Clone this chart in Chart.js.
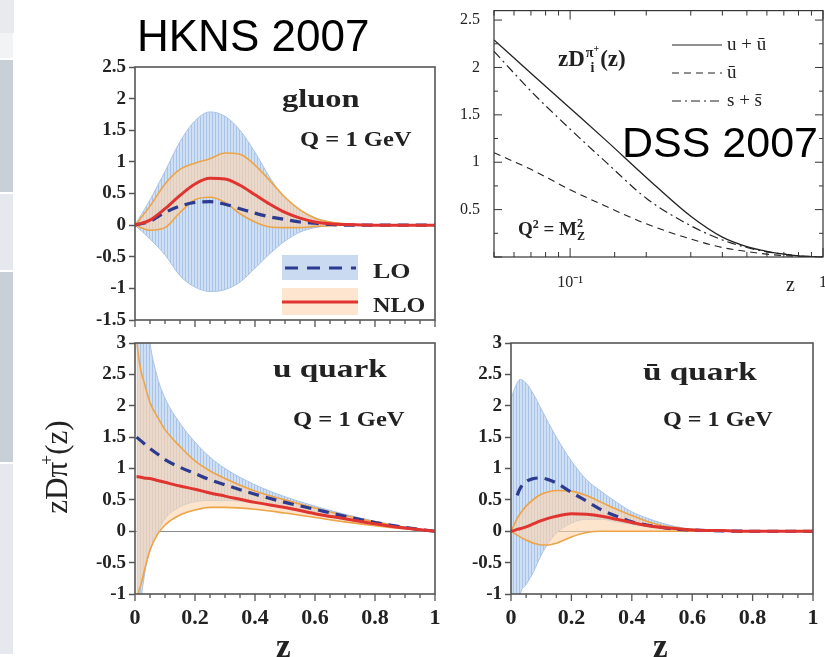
<!DOCTYPE html>
<html><head><meta charset="utf-8">
<script src="https://cdn.jsdelivr.net/npm/chart.js@4.4.1/dist/chart.umd.min.js"></script>
<style>
html,body{margin:0;padding:0;background:#fff;}
body{width:825px;height:657px;overflow:hidden;position:relative;font-family:"Liberation Serif",serif;color:#222;}
.box{position:absolute;}
.strip{position:absolute;left:0;}
.t{position:absolute;white-space:nowrap;line-height:1;}
.lbl{position:absolute;white-space:nowrap;line-height:1;font-weight:bold;color:#222;transform-origin:0 50%;font-family:"Liberation Serif",serif;}
.sans{font-family:"Liberation Sans",Arial,sans-serif;color:#000;}
</style></head><body>

<div class="strip" style="top:0;height:33px;width:14px;background:#e8ebee"></div>
<div class="strip" style="top:33px;height:25px;width:13px;background:#f2f3f5"></div>
<div class="strip" style="top:60px;height:132px;width:13px;background:#c9cfd7"></div>
<div class="strip" style="top:194px;height:76px;width:13px;background:#e5e8ec"></div>
<div class="strip" style="top:272px;height:190px;width:13px;background:#c9cfd7"></div>
<div class="strip" style="top:464px;height:190px;width:13px;background:#e5e8ec"></div>

<div class="box" style="left:80px;top:50px;width:365px;height:285px"><canvas id="cG"></canvas></div>
<div class="box" style="left:80px;top:326px;width:373px;height:308px"><canvas id="cU"></canvas></div>
<div class="box" style="left:456px;top:326px;width:375px;height:308px"><canvas id="cUb"></canvas></div>
<div class="box" style="left:444px;top:-13px;width:401px;height:310px"><canvas id="cD"></canvas></div>

<div class="t sans" style="left:137px;top:14px;font-size:44px">HKNS 2007</div>
<div class="t sans" style="left:622px;top:121px;font-size:43px">DSS 2007</div>

<!-- HKNS panel labels -->
<div class="lbl" style="left:282px;top:86px;font-size:25px;transform:scaleX(1.3)">gluon</div>
<div class="lbl" style="left:300px;top:129px;font-size:21px;transform:scaleX(1.17)">Q = 1 GeV</div>
<div class="lbl" style="left:273px;top:356px;font-size:26px;transform:scaleX(1.28)">u quark</div>
<div class="lbl" style="left:293px;top:409px;font-size:21px;transform:scaleX(1.17)">Q = 1 GeV</div>
<div class="lbl" style="left:643px;top:359px;font-size:26px;transform:scaleX(1.28)">ū quark</div>
<div class="lbl" style="left:663px;top:409px;font-size:21px;transform:scaleX(1.15)">Q = 1 GeV</div>

<!-- gluon legend -->
<div class="box" style="left:282px;top:255px;width:76px;height:25px;background:#c9daf1"></div>
<svg class="box" style="left:282px;top:255px" width="76" height="25"><line x1="3" y1="13" x2="74" y2="13" stroke="#2c3a8f" stroke-width="3" stroke-dasharray="13 9"/></svg>
<div class="lbl" style="left:373px;top:260px;font-size:22px;transform:scaleX(1.18)">LO</div>
<div class="box" style="left:282px;top:288px;width:76px;height:27px;background:#fde5d0"></div>
<svg class="box" style="left:282px;top:288px" width="76" height="27"><line x1="0" y1="14" x2="76" y2="14" stroke="#e03430" stroke-width="3"/></svg>
<div class="lbl" style="left:373px;top:294px;font-size:22px;transform:scaleX(1.1)">NLO</div>

<!-- axis titles -->
<div class="t" style="left:55px;top:467px;transform:translate(-50%,-50%) rotate(-90deg);font-size:31px;">zDπ<sup style="font-size:18px;vertical-align:14px;margin-left:-3px">+</sup>(z)</div>
<div class="t" style="left:276px;top:630px;font-size:33px;font-weight:bold">z</div>
<div class="t" style="left:653px;top:630px;font-size:33px;font-weight:bold">z</div>

<!-- DSS labels -->
<div class="t" style="left:558px;top:44px;font-size:23px;font-weight:bold">zD<span style="display:inline-block;vertical-align:-6px;font-size:14px;line-height:1.05;text-align:center;margin:0 1px">π<sup style="font-size:10px;vertical-align:5px">+</sup><br>i</span>(z)</div>
<div class="t" style="left:518px;top:217px;font-size:19px;font-weight:bold">Q<sup style="font-size:12px;vertical-align:7px">2</sup> = M<span style="display:inline-block;vertical-align:-5px;font-size:12px;line-height:1.05">2<br>Z</span></div>
<svg class="box" style="left:670px;top:35px" width="55" height="75">
<line x1="2" y1="10" x2="52" y2="10" stroke="#222" stroke-width="1.2"/>
<line x1="2" y1="38" x2="52" y2="38" stroke="#222" stroke-width="1.1" stroke-dasharray="7 5"/>
<line x1="2" y1="66" x2="52" y2="66" stroke="#222" stroke-width="1.2" stroke-dasharray="9 4 2 4"/>
</svg>
<div class="t" style="left:727px;top:34px;font-size:19px">u + ū</div>
<div class="t" style="left:727px;top:62px;font-size:19px">ū</div>
<div class="t" style="left:727px;top:90px;font-size:19px">s + s̄</div>
<div class="t" style="left:786px;top:274px;font-size:20px">z</div>

<script>
// ---------- gluon (HKNS, Q = 1 GeV) ----------
const gluonZ     = [0, 0.05, 0.1, 0.15, 0.2, 0.25, 0.3, 0.35, 0.4, 0.45, 0.5, 0.55, 0.6, 0.65, 0.7, 0.8, 0.9, 1];
const gluonLOUp  = [0, 0.40, 0.85, 1.32, 1.65, 1.79, 1.72, 1.50, 1.15, 0.75, 0.42, 0.24, 0.12, 0.05, 0.02, 0, 0, 0];
const gluonLOLo  = [0, -0.22, -0.47, -0.80, -0.98, -1.05, -1.02, -0.90, -0.68, -0.45, -0.25, -0.11, -0.04, -0.01, 0, 0, 0, 0];
const gluonNLOUp = [0, 0.30, 0.65, 0.88, 0.98, 1.05, 1.14, 1.12, 0.95, 0.70, 0.44, 0.24, 0.11, 0.05, 0.02, 0, 0, 0];
const gluonNLOLo = [0, -0.08, -0.04, 0.20, 0.40, 0.44, 0.36, 0.18, 0.05, -0.03, -0.04, -0.04, -0.02, -0.01, 0, 0, 0, 0];
const gluonLO    = [0, 0.06, 0.20, 0.30, 0.36, 0.37, 0.33, 0.26, 0.19, 0.13, 0.09, 0.05, 0.03, 0.01, 0, 0, 0, 0];
const gluonNLO   = [0, 0.08, 0.26, 0.47, 0.65, 0.74, 0.73, 0.63, 0.48, 0.33, 0.20, 0.11, 0.05, 0.02, 0.01, 0, 0, 0];

// ---------- u quark ----------
const uZ      = [0.005, 0.01, 0.02, 0.03, 0.05, 0.075, 0.1, 0.15, 0.2, 0.25, 0.3, 0.4, 0.5, 0.6, 0.7, 0.8, 0.9, 1];
const uLOUp   = [8, 6.5, 4.8, 3.9, 3.0, 2.45, 2.12, 1.72, 1.42, 1.18, 1.0, 0.74, 0.55, 0.40, 0.27, 0.16, 0.07, 0];
const uLOLo   = [-6, -3.5, -1.3, -0.75, -0.32, -0.02, 0.20, 0.39, 0.47, 0.49, 0.49, 0.45, 0.37, 0.27, 0.18, 0.10, 0.04, 0];
const uNLOUp  = [3.1, 2.85, 2.55, 2.38, 2.05, 1.82, 1.62, 1.35, 1.12, 0.96, 0.84, 0.64, 0.50, 0.37, 0.25, 0.15, 0.06, 0];
const uNLOLo  = [-1.5, -1.05, -0.85, -0.65, -0.30, -0.05, 0.10, 0.26, 0.34, 0.38, 0.38, 0.35, 0.29, 0.22, 0.15, 0.09, 0.04, 0];
const uLO     = [1.50, 1.48, 1.44, 1.40, 1.32, 1.23, 1.14, 1.02, 0.92, 0.82, 0.74, 0.59, 0.46, 0.35, 0.24, 0.14, 0.06, 0];
const uNLO    = [0.87, 0.87, 0.86, 0.85, 0.84, 0.81, 0.78, 0.72, 0.67, 0.61, 0.56, 0.46, 0.38, 0.28, 0.20, 0.12, 0.05, 0];

// ---------- u-bar quark ----------
const ubZ     = [0, 0.01, 0.02, 0.03, 0.05, 0.075, 0.1, 0.125, 0.15, 0.2, 0.25, 0.3, 0.35, 0.4, 0.45, 0.5, 0.55, 0.6, 0.7, 0.8, 1];
const ubLOUp  = [2.1, 2.25, 2.36, 2.42, 2.36, 2.18, 1.95, 1.72, 1.50, 1.12, 0.82, 0.63, 0.46, 0.31, 0.21, 0.13, 0.07, 0.035, 0.01, 0, 0];
const ubLOLo  = [-3, -2, -1.4, -1.02, -0.85, -0.64, -0.38, -0.18, -0.03, 0.13, 0.19, 0.19, 0.15, 0.11, 0.07, 0.04, 0.02, 0.01, 0, 0, 0];
const ubNLOUp = [0, 0.10, 0.20, 0.28, 0.40, 0.51, 0.59, 0.63, 0.65, 0.64, 0.57, 0.46, 0.35, 0.25, 0.16, 0.09, 0.05, 0.03, 0.01, 0, 0];
const ubNLOLo = [0, -0.03, -0.06, -0.09, -0.14, -0.19, -0.22, -0.22, -0.19, -0.09, -0.02, 0, 0, 0, 0, 0, 0, 0, 0, 0, 0];
const ubLO    = [null, null, 0.57, 0.68, 0.79, 0.84, 0.85, 0.82, 0.77, 0.62, 0.48, 0.34, 0.24, 0.15, 0.10, 0.06, 0.03, 0.02, 0.005, 0, 0];
const ubNLO   = [0, 0.01, 0.03, 0.04, 0.07, 0.12, 0.17, 0.21, 0.24, 0.28, 0.27, 0.24, 0.19, 0.14, 0.09, 0.06, 0.04, 0.02, 0.01, 0, 0];

// ---------- DSS 2007, Q^2 = M_Z^2 ----------
const dssZ     = [0.05, 0.07, 0.1, 0.14, 0.2, 0.3, 0.4, 0.5, 0.6, 0.7, 0.8, 0.9, 1.0];
const dssUUbar = [2.29, 1.94, 1.57, 1.22, 0.84, 0.43, 0.21, 0.11, 0.06, 0.03, 0.012, 0.004, 0];
const dssUbar  = [1.10, 0.925, 0.71, 0.53, 0.35, 0.19, 0.10, 0.058, 0.03, 0.015, 0.007, 0.003, 0];
const dssSSbar = [2.17, 1.75, 1.35, 0.99, 0.62, 0.33, 0.18, 0.10, 0.055, 0.03, 0.013, 0.005, 0];

const hknsXTicks = [0, 0.2, 0.4, 0.6, 0.8, 1];

function pts(z, v) { return z.map((x, i) => ({ x: x, y: v[i] })); }
function near(a, b) { return Math.abs(a - b) < 1e-6; }
function isMajorX(v) { return hknsXTicks.some(t => near(t, v)); }

function framePlugin(cfg) {
  return {
    id: 'frameTicks',
    afterDatasetsDraw(chart) {
      const ctx = chart.ctx, a = chart.chartArea, xs = chart.scales.x, ys = chart.scales.y;
      ctx.save();
      ctx.strokeStyle = cfg.color;
      ctx.lineWidth = cfg.width;
      ctx.strokeRect(a.left, a.top, a.right - a.left, a.bottom - a.top);
      ctx.lineWidth = cfg.tickWidth;
      ctx.beginPath();
      xs.ticks.forEach(t => {
        const px = xs.getPixelForValue(t.value);
        const len = cfg.xMajor(t.value) ? cfg.xMajorLen : cfg.xMinorLen;
        if (cfg.inward) {
          ctx.moveTo(px, a.bottom); ctx.lineTo(px, a.bottom - len);
          ctx.moveTo(px, a.top); ctx.lineTo(px, a.top + len);
        } else {
          ctx.moveTo(px, a.bottom); ctx.lineTo(px, a.bottom + len);
        }
      });
      if (cfg.yInward) {
        ys.ticks.forEach(t => {
          const py = ys.getPixelForValue(t.value);
          const len = cfg.yMajor(t.value) ? cfg.yMajorLen : cfg.yMinorLen;
          ctx.moveTo(a.left, py); ctx.lineTo(a.left + len, py);
          ctx.moveTo(a.right, py); ctx.lineTo(a.right - len, py);
        });
      }
      ctx.stroke();
      ctx.restore();
    }
  };
}

function hatch(ctx) {
  const c = document.createElement('canvas');
  c.width = 3; c.height = 4;
  const g = c.getContext('2d');
  g.fillStyle = '#d0e0f4'; g.fillRect(0, 0, 3, 4);
  g.fillStyle = '#a9c4e8'; g.fillRect(0, 0, 1, 4);
  return ctx.createPattern(c, 'repeat');
}

const tickFontY = { family: 'Liberation Serif', weight: 'bold', size: 19 };
const tickFontX = { family: 'Liberation Serif', weight: 'bold', size: 22 };

function hkns(id, z, s, ymin, ymax, showX) {
  const canvas = document.getElementById(id);
  const ctx = canvas.getContext('2d');
  const line = { pointRadius: 0, cubicInterpolationMode: 'monotone', spanGaps: true };
  const datasets = [
    Object.assign({ data: pts(z, s.loUp), borderColor: '#a9c3e6', borderWidth: 1, backgroundColor: hatch(ctx), fill: '+1', order: 10 }, line),
    Object.assign({ data: pts(z, s.loLo), borderColor: '#a9c3e6', borderWidth: 1, fill: false, order: 9 }, line),
    Object.assign({ data: pts(z, s.nloUp), borderColor: '#eca447', borderWidth: 1.6, backgroundColor: 'rgba(252,212,172,0.62)', fill: '+1', order: 8 }, line),
    Object.assign({ data: pts(z, s.nloLo), borderColor: '#eca447', borderWidth: 1.6, fill: false, order: 7 }, line),
    Object.assign({ data: pts(z, s.lo), borderColor: '#2c3a8f', borderWidth: 3.2, borderDash: [11, 7], fill: false, order: 2 }, line),
    Object.assign({ data: pts(z, s.nlo), borderColor: '#e03430', borderWidth: 3, fill: false, order: 1 }, line)
  ];
  return new Chart(canvas, {
    type: 'line',
    data: { datasets: datasets },
    options: {
      responsive: true, maintainAspectRatio: false, animation: false,
      layout: { padding: { top: 17, right: showX ? 18 : 10, bottom: showX ? 0 : 5, left: 0 } },
      plugins: { legend: { display: false }, tooltip: { enabled: false } },
      scales: {
        x: {
          type: 'linear', min: 0, max: 1,
          border: { display: false },
          grid: { drawOnChartArea: false, drawTicks: false },
          ticks: {
            display: showX, stepSize: 0.05, autoSkip: false, maxRotation: 0, padding: 11,
            color: '#222', font: tickFontX,
            callback: v => isMajorX(v) ? (near(v, 0) ? '0' : near(v, 1) ? '1' : v.toFixed(1)) : ''
          },
          afterFit: sc => { sc.height = showX ? 40 : 10; }
        },
        y: {
          min: ymin, max: ymax,
          border: { display: false },
          grid: {
            drawOnChartArea: true, lineWidth: 1,
            color: c => (c.tick && near(c.tick.value, 0)) ? '#8a8a8a' : 'rgba(0,0,0,0)',
            tickLength: 6, tickColor: '#555', tickWidth: 1.5
          },
          ticks: {
            stepSize: 0.5, padding: 3, color: '#222', font: tickFontY,
            callback: v => String(+v.toFixed(1))
          },
          afterFit: sc => { sc.width = 55; }
        }
      }
    },
    plugins: [framePlugin({
      color: '#555', width: 1.6, tickWidth: 1.3, inward: false,
      xMajor: isMajorX, xMajorLen: 7, xMinorLen: 4, yInward: false
    })]
  });
}

hkns('cG', gluonZ, { loUp: gluonLOUp, loLo: gluonLOLo, nloUp: gluonNLOUp, nloLo: gluonNLOLo, lo: gluonLO, nlo: gluonNLO }, -1.5, 2.5, false);
hkns('cU', uZ, { loUp: uLOUp, loLo: uLOLo, nloUp: uNLOUp, nloLo: uNLOLo, lo: uLO, nlo: uNLO }, -1, 3, true);
hkns('cUb', ubZ, { loUp: ubLOUp, loLo: ubLOLo, nloUp: ubNLOUp, nloLo: ubNLOLo, lo: ubLO, nlo: ubNLO }, -1, 3, true);

// DSS panel
(function () {
  const isDec = v => near(Math.log10(v), Math.round(Math.log10(v)));
  const line = { pointRadius: 0, cubicInterpolationMode: 'monotone', fill: false, borderColor: '#222' };
  new Chart(document.getElementById('cD'), {
    type: 'line',
    data: {
      datasets: [
        Object.assign({ data: pts(dssZ, dssUUbar), borderWidth: 1.3 }, line),
        Object.assign({ data: pts(dssZ, dssUbar), borderWidth: 1.1, borderDash: [7, 5] }, line),
        Object.assign({ data: pts(dssZ, dssSSbar), borderWidth: 1.2, borderDash: [9, 4, 2, 4] }, line)
      ]
    },
    options: {
      responsive: true, maintainAspectRatio: false, animation: false,
      layout: { padding: { top: 23, right: 22, bottom: 5, left: 0 } },
      plugins: { legend: { display: false }, tooltip: { enabled: false } },
      scales: {
        x: {
          type: 'logarithmic', min: 0.05, max: 1,
          border: { display: false },
          grid: { drawOnChartArea: false, drawTicks: false },
          ticks: {
            autoSkip: false, maxRotation: 0, padding: 16, color: '#222',
            font: { family: 'Liberation Serif', size: 16 },
            callback: v => near(v, 0.1) ? '10⁻¹' : near(v, 1) ? '1' : ''
          },
          afterFit: sc => { sc.height = 35; }
        },
        y: {
          min: 0, max: 2.6,
          border: { display: false },
          grid: { drawOnChartArea: false, drawTicks: false },
          ticks: {
            stepSize: 0.25, includeBounds: false, padding: 14, color: '#222',
            font: { family: 'Liberation Serif', size: 16 },
            callback: v => (v > 0 && near(v * 2, Math.round(v * 2))) ? String(+v.toFixed(1)) : ''
          },
          afterFit: sc => { sc.width = 50; }
        }
      }
    },
    plugins: [framePlugin({
      color: '#333', width: 1.2, tickWidth: 1, inward: true,
      xMajor: isDec, xMajorLen: 9, xMinorLen: 5,
      yInward: true, yMajor: v => near(v * 2, Math.round(v * 2)), yMajorLen: 8, yMinorLen: 4
    })]
  });
})();
</script>
</body></html>
